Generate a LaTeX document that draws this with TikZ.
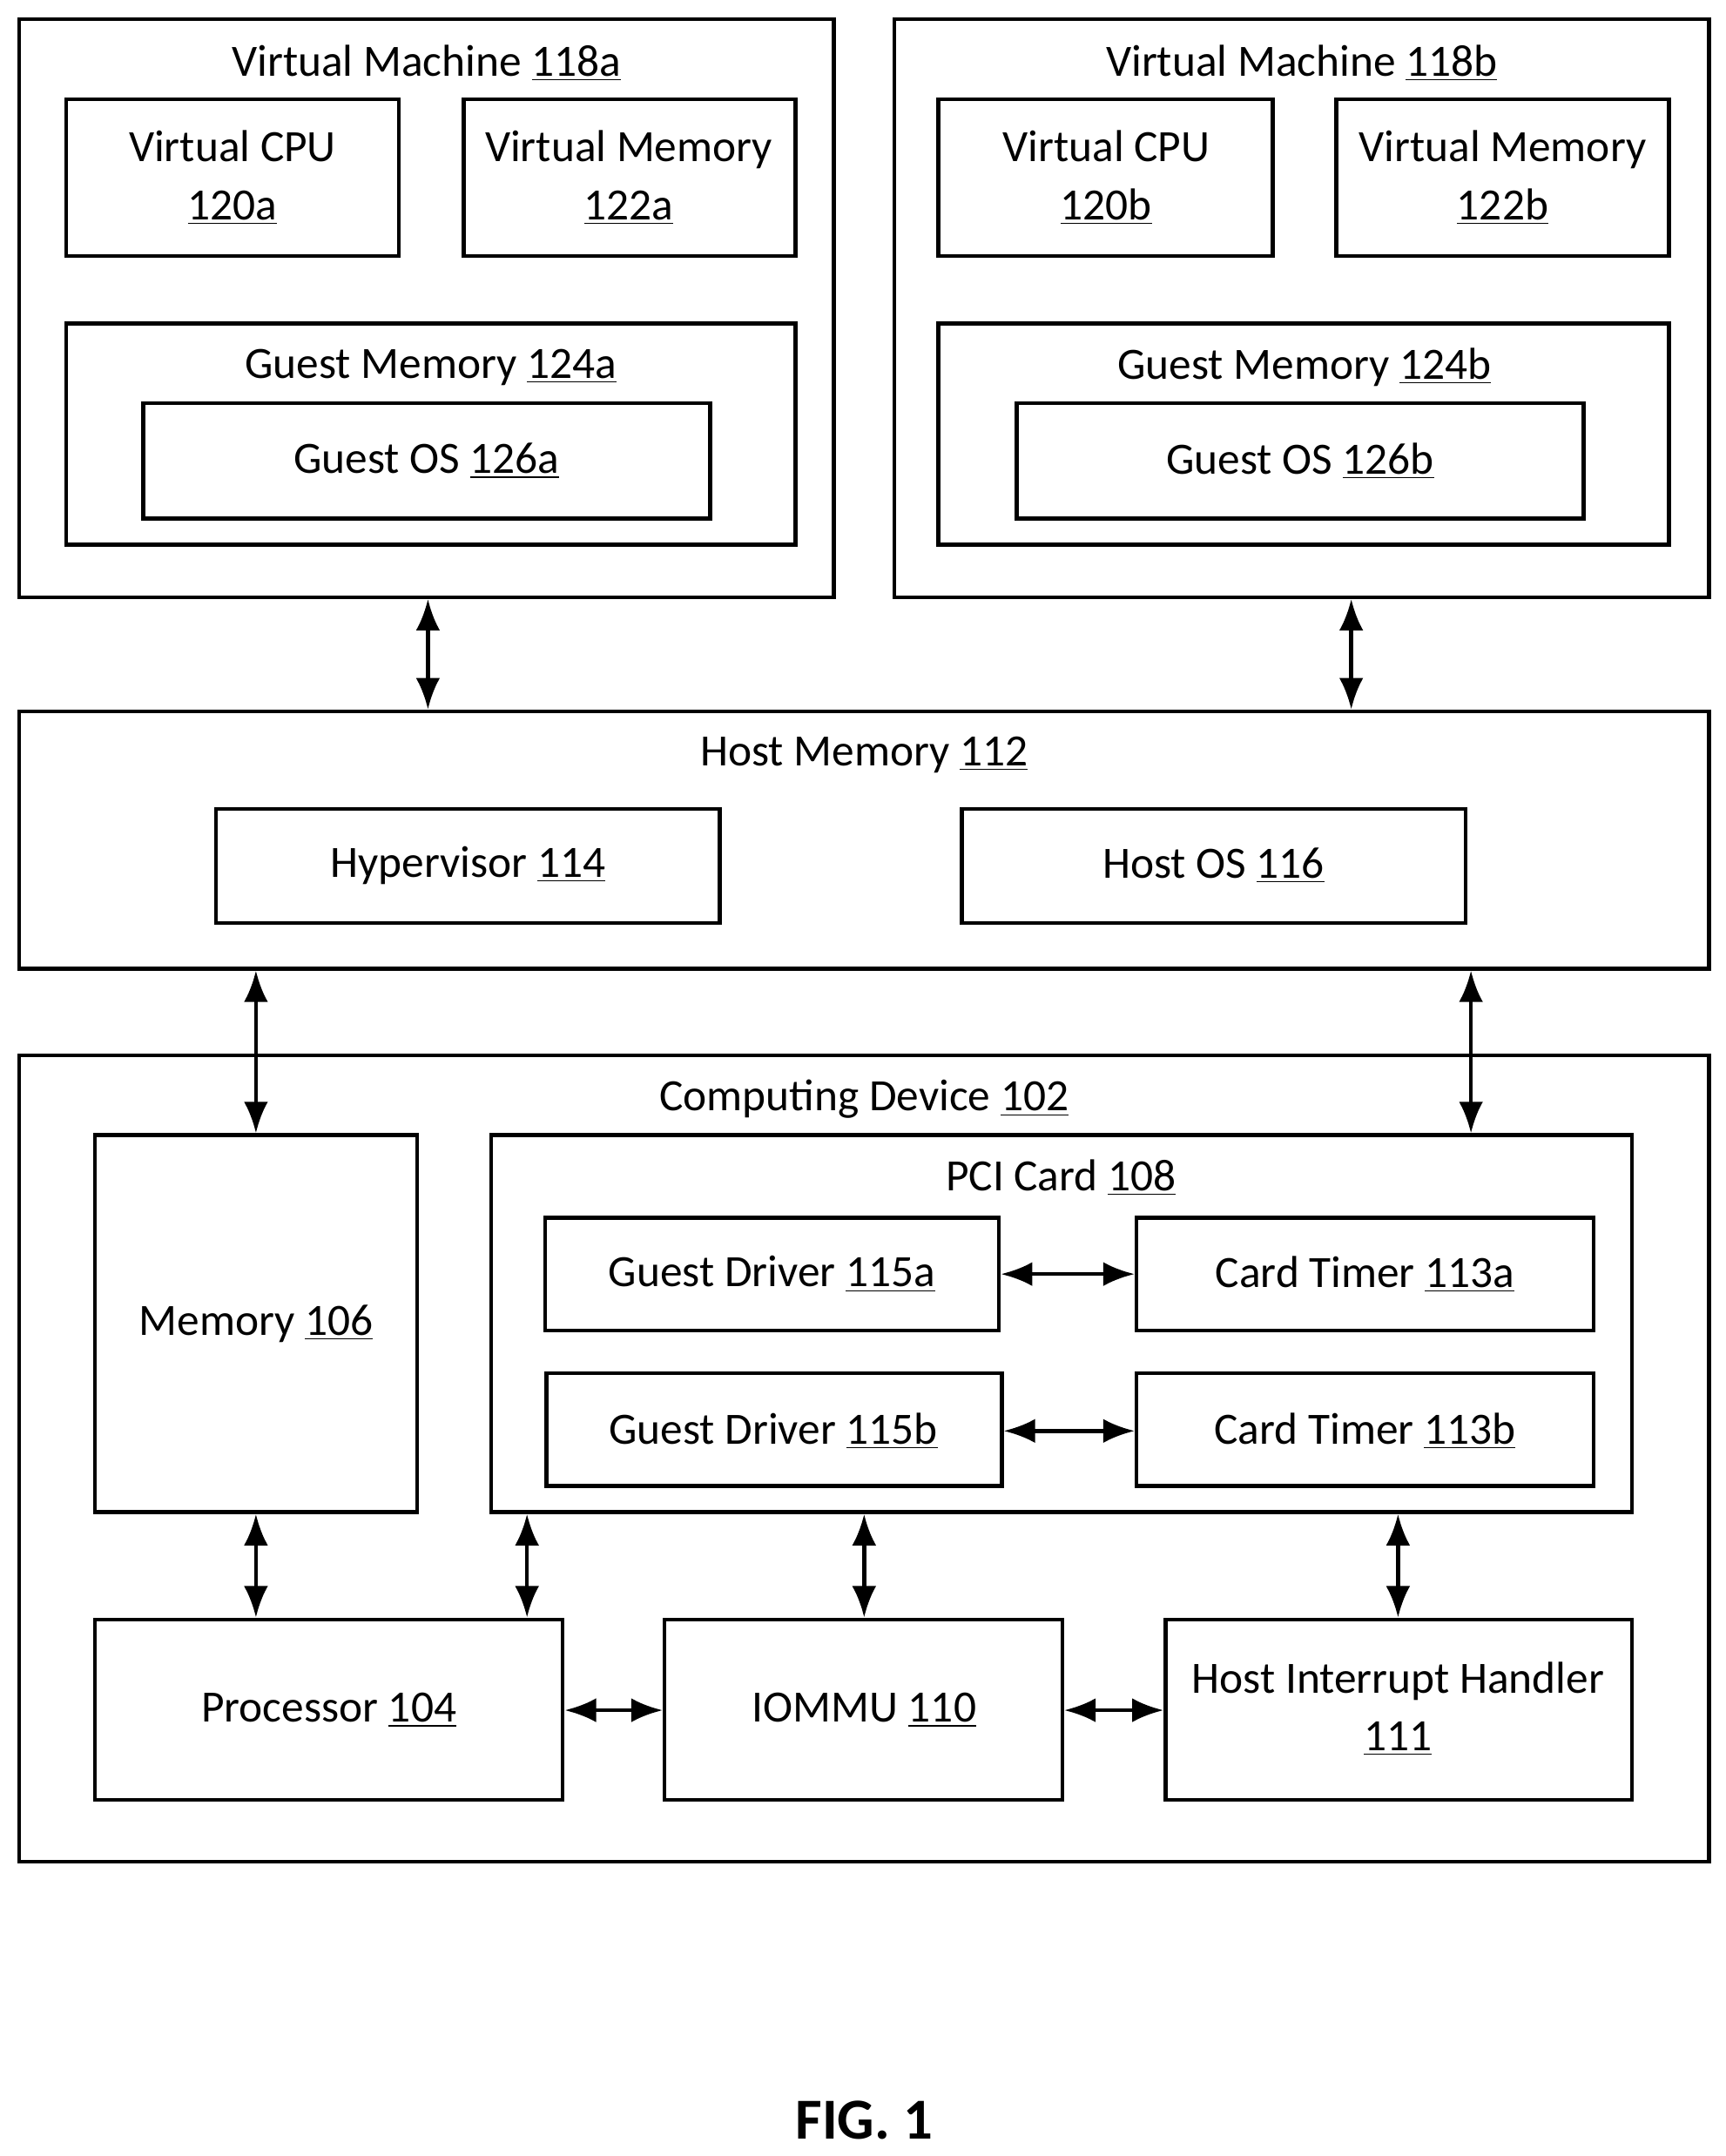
\documentclass[tikz,border=0pt]{standalone}
\usepackage{fontspec}
\setmainfont{Carlito}
\usetikzlibrary{fit,arrows.meta}
\begin{document}
\begin{tikzpicture}[x=0.02cm,y=-0.02cm,
  box/.style={draw,line width=1.6pt,inner sep=0pt},
  lbl/.style={font=\fontsize{18.5}{24}\selectfont,align=center},
  arr/.style={line width=1.6pt,{Latex[length=13pt,width=10pt]}-{Latex[length=13pt,width=10pt]}}]
\useasboundingbox (0,0) rectangle (1254,1567);
\newcommand{\bx}[5]{\path (#2,#3) coordinate (#1-a) (#4,#5) coordinate (#1-b); \node[box,fit=(#1-a)(#1-b)] (#1) {};}
\newcommand{\tx}[4]{\node[lbl] (#1) at (#2,#3) {#4};}
% VMs
\bx{vma}{14}{14}{606}{434} \tx{tvma}{310}{46}{Virtual Machine \underline{118a}}
\bx{cpua}{48}{72}{290}{186} \tx{tcpua}{169}{129}{Virtual CPU\\\underline{120a}}
\bx{vmema}{337}{72}{578}{186} \tx{tvmema}{457}{129}{Virtual Memory\\\underline{122a}}
\bx{gma}{48}{235}{578}{396} \tx{tgma}{313}{267}{Guest Memory \underline{124a}}
\bx{gosa}{104}{293}{516}{377} \tx{tgosa}{310}{335}{Guest OS \underline{126a}}
\bx{vmb}{650}{14}{1242}{434} \tx{tvmb}{946}{46}{Virtual Machine \underline{118b}}
\bx{cpub}{682}{72}{925}{186} \tx{tcpub}{804}{129}{Virtual CPU\\\underline{120b}}
\bx{vmemb}{971}{72}{1213}{186} \tx{tvmemb}{1092}{129}{Virtual Memory\\\underline{122b}}
\bx{gmb}{682}{235}{1213}{396} \tx{tgmb}{948}{267}{Guest Memory \underline{124b}}
\bx{gosb}{739}{293}{1151}{377} \tx{tgosb}{945}{335}{Guest OS \underline{126b}}
% Host memory
\bx{hm}{14}{517}{1242}{704} \tx{thm}{628}{549}{Host Memory \underline{112}}
\bx{hyp}{157}{588}{523}{671} \tx{thyp}{340}{629}{Hypervisor \underline{114}}
\bx{hos}{699}{588}{1065}{671} \tx{thos}{882}{629}{Host OS \underline{116}}
% Computing device
\bx{cd}{14}{767}{1242}{1353} \tx{tcd}{628}{799}{Computing Device \underline{102}}
\bx{mem}{69}{825}{303}{1099} \tx{tmem}{186}{962}{Memory \underline{106}}
\bx{pci}{357}{825}{1186}{1099} \tx{tpci}{771}{856}{PCI Card \underline{108}}
\bx{gda}{396}{885}{726}{967} \tx{tgda}{561}{926}{Guest Driver \underline{115a}}
\bx{cta}{826}{885}{1158}{967} \tx{tcta}{992}{926}{Card Timer \underline{113a}}
\bx{gdb}{397}{998}{728}{1080} \tx{tgdb}{562}{1040}{Guest Driver \underline{115b}}
\bx{ctb}{826}{998}{1158}{1080} \tx{tctb}{992}{1040}{Card Timer \underline{113b}}
\bx{proc}{69}{1177}{409}{1308} \tx{tproc}{239}{1243}{Processor \underline{104}}
\bx{iommu}{483}{1177}{772}{1308} \tx{tiommu}{628}{1243}{IOMMU \underline{110}}
\bx{hih}{847}{1177}{1186}{1308} \tx{thih}{1016}{1242}{Host Interrupt Handler\\\underline{111}}
\node[font=\fontsize{24}{28}\selectfont\bfseries] (fig) at (628,1541) {FIG. 1};
% arrows
\draw[arr] (vma.south -| 311,0) -- (hm.north -| 311,0);
\draw[arr] (vmb.south -| 982,0) -- (hm.north -| 982,0);
\draw[arr] (hm.south -| 186,0) -- (mem.north -| 186,0);
\draw[arr] (hm.south -| 1069,0) -- (pci.north -| 1069,0);
\draw[arr] (mem.south -| 186,0) -- (proc.north -| 186,0);
\draw[arr] (pci.south -| 383,0) -- (proc.north -| 383,0);
\draw[arr] (pci.south -| 628,0) -- (iommu.north -| 628,0);
\draw[arr] (pci.south -| 1016,0) -- (hih.north -| 1016,0);
\draw[arr] (proc.east |- 0,1243) -- (iommu.west |- 0,1243);
\draw[arr] (iommu.east |- 0,1243) -- (hih.west |- 0,1243);
\draw[arr] (gda.east) -- (cta.west);
\draw[arr] (gdb.east |- 0,1040) -- (ctb.west |- 0,1040);
\end{tikzpicture}
\end{document}
